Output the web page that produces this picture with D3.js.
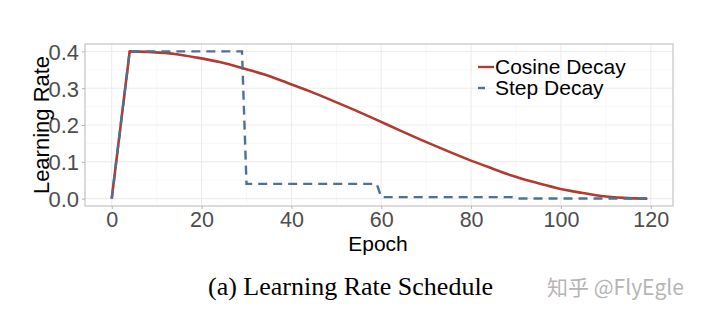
<!DOCTYPE html>
<html>
<head>
<meta charset="utf-8">
<script src="https://cdn.jsdelivr.net/npm/d3@7"></script>
<style>
  html, body { margin: 0; padding: 0; background: #fff; }
  svg { display: block; }
</style>
</head>
<body>
<svg id="chart" width="720" height="324"></svg>
<script>
// ---- data ----
const warmupEpochs = [0, 4];
const warmupValues = [0, 0.4];
const cosineEpochs = [4, 9, 14, 19, 24, 29, 34, 39, 44, 49, 54, 59, 64, 69, 74, 79, 84, 89, 94, 99, 104, 109, 114, 119];
const cosineValues = [0.400, 0.398, 0.393, 0.383, 0.371, 0.355, 0.337, 0.315, 0.292, 0.267, 0.241, 0.214, 0.186, 0.159, 0.133, 0.108, 0.085, 0.063, 0.045, 0.029, 0.017, 0.007, 0.002, 0.000];
const stepEpochs = [0, 4, 29, 30, 59, 60, 89, 90, 119];
const stepValues = [0, 0.4, 0.4, 0.04, 0.04, 0.004, 0.004, 0.0004, 0.0004];
const xTicks = [0, 20, 40, 60, 80, 100, 120];
const yTicks = [0.0, 0.1, 0.2, 0.3, 0.4];
const seriesNames = ["Cosine Decay", "Step Decay"];
const seriesColors = ["#b23a30", "#4d7195"];

// ---- layout ----
const svg = d3.select("#chart");
const panel = { left: 85, right: 673, top: 44, bottom: 206 };
const x = d3.scaleLinear().domain([-5.95, 124.95]).range([panel.left, panel.right]);
const y = d3.scaleLinear().domain([-0.02, 0.42]).range([panel.bottom, panel.top]);

// minor grid
const xMinor = xTicks.slice(0, -1).map((d, i) => (d + xTicks[i + 1]) / 2);
const yMinor = yTicks.slice(0, -1).map((d, i) => (d + yTicks[i + 1]) / 2);
const grid = svg.append("g");
grid.selectAll(".xm").data(xMinor).join("line")
  .attr("x1", d => x(d)).attr("x2", d => x(d))
  .attr("y1", panel.top).attr("y2", panel.bottom)
  .attr("stroke", "#f4f4f4").attr("stroke-width", 0.6);
grid.selectAll(".ym").data(yMinor).join("line")
  .attr("y1", d => y(d)).attr("y2", d => y(d))
  .attr("x1", panel.left).attr("x2", panel.right)
  .attr("stroke", "#f4f4f4").attr("stroke-width", 0.6);
grid.selectAll(".xg").data(xTicks).join("line")
  .attr("x1", d => x(d)).attr("x2", d => x(d))
  .attr("y1", panel.top).attr("y2", panel.bottom)
  .attr("stroke", "#ebebeb").attr("stroke-width", 1);
grid.selectAll(".yg").data(yTicks).join("line")
  .attr("y1", d => y(d)).attr("y2", d => y(d))
  .attr("x1", panel.left).attr("x2", panel.right)
  .attr("stroke", "#ebebeb").attr("stroke-width", 1);

// panel border
svg.append("rect")
  .attr("x", panel.left).attr("y", panel.top)
  .attr("width", panel.right - panel.left).attr("height", panel.bottom - panel.top)
  .attr("fill", "none").attr("stroke", "#c4c4c4").attr("stroke-width", 1.2);

// axes
const fontSans = "'Liberation Sans', Arial, Helvetica, sans-serif";
const xAxis = svg.append("g").attr("transform", `translate(0,${panel.bottom})`)
  .call(d3.axisBottom(x).tickValues(xTicks).tickFormat(d3.format("d")).tickSize(3).tickPadding(3));
const yAxis = svg.append("g").attr("transform", `translate(${panel.left},0)`)
  .call(d3.axisLeft(y).tickValues(yTicks).tickFormat(d3.format(".1f")).tickSize(3).tickPadding(3));
[xAxis, yAxis].forEach(a => {
  a.select(".domain").remove();
  a.selectAll(".tick line").attr("stroke", "#b3b3b3").attr("stroke-width", 1);
  a.selectAll(".tick text").attr("fill", "#4d4d4d").style("font-family", fontSans).style("font-size", "22px");
});
xAxis.selectAll(".tick text").attr("dy", "0.71em").style("font-size", "21.5px");
yAxis.selectAll(".tick text").attr("dy", "0.36em");

// axis titles
svg.append("text").attr("x", 378).attr("y", 251).attr("text-anchor", "middle")
  .style("font-family", fontSans).style("font-size", "21px").attr("fill", "#000").text("Epoch");
svg.append("text").attr("transform", "translate(49,125) rotate(-90)").attr("text-anchor", "middle")
  .style("font-family", fontSans).style("font-size", "22px").attr("fill", "#000").text("Learning Rate");

// lines
const lineLin = d3.line().x(d => x(d[0])).y(d => y(d[1]));
const lineSmooth = d3.line().x(d => x(d[0])).y(d => y(d[1])).curve(d3.curveMonotoneX);
const plot = svg.append("g");
plot.append("path").datum(warmupEpochs.map((e, i) => [e, warmupValues[i]]))
  .attr("d", lineLin).attr("fill", "none").attr("stroke", seriesColors[0]).attr("stroke-width", 2.6);
plot.append("path").datum(cosineEpochs.map((e, i) => [e, cosineValues[i]]))
  .attr("d", lineSmooth).attr("fill", "none").attr("stroke", seriesColors[0]).attr("stroke-width", 2.6)
  .attr("stroke-linecap", "round");
plot.append("path").datum(stepEpochs.map((e, i) => [e, stepValues[i]]))
  .attr("d", lineLin).attr("fill", "none").attr("stroke", seriesColors[1]).attr("stroke-width", 2.4)
  .attr("stroke-dasharray", "9,6");

// legend
const legend = svg.append("g");
const legY = [67, 88];
const legBase = [74, 95];
legend.selectAll("line").data(seriesNames).join("line")
  .attr("x1", 478).attr("x2", 494)
  .attr("y1", (d, i) => legY[i]).attr("y2", (d, i) => legY[i])
  .attr("stroke", (d, i) => seriesColors[i]).attr("stroke-width", 2.4)
  .attr("stroke-dasharray", (d, i) => i === 1 ? "7,20" : null);
legend.selectAll("text").data(seriesNames).join("text")
  .attr("x", 495).attr("y", (d, i) => legBase[i])
  .style("font-family", fontSans).style("font-size", "21px").attr("fill", "#000")
  .text(d => d);

// caption
svg.append("text").attr("x", 208).attr("y", 295)
  .style("font-family", "'Liberation Serif', 'Times New Roman', serif").style("font-size", "26px")
  .attr("fill", "#000").text("(a) Learning Rate Schedule");
svg.append("text").attr("x", 547).attr("y", 295)
  .style("font-family", "'Noto Sans CJK SC', 'Noto Sans', sans-serif").style("font-size", "21px")
  .attr("fill", "#b5b5b5").text("知乎 @FlyEgle");
</script>
</body>
</html>
